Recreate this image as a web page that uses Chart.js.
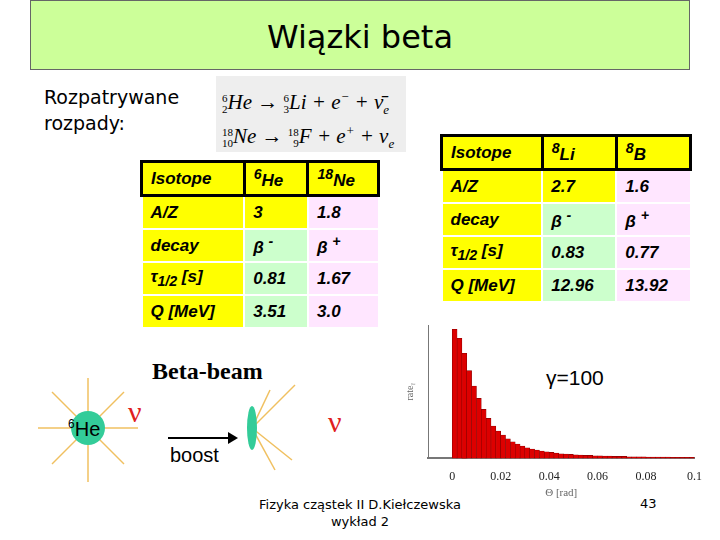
<!DOCTYPE html><html><head><meta charset="utf-8">
<script src="https://cdn.jsdelivr.net/npm/chart.js@4/dist/chart.umd.min.js"></script>
<style>
body{margin:0;width:720px;height:540px;position:relative;background:#fff;font-family:"Liberation Sans",Arial,sans-serif;overflow:hidden}
.abs{position:absolute}
#title{left:30px;top:0;width:660px;height:70px;background:#ccff99;border:1px solid #666;box-sizing:border-box;text-align:center;font:32px "DejaVu Sans";line-height:72px;color:#000}
table{border-collapse:collapse;font-weight:bold;font-size:17px;font-style:italic}
td{border:2px solid #fff;padding:0 8px;height:31px}
.hd td{background:#ffff00;border:3px solid #000}
td.p{background:#ffe6ff}
.frm{background:#eee;font:italic 21px "Liberation Serif";padding:4px 6px}
.pre{display:inline-flex;flex-direction:column;font-size:11px;line-height:11px;vertical-align:middle;text-align:right;font-style:normal}
.ln{height:34px;line-height:34px;white-space:nowrap}
</style></head><body>
<div id="title" class="abs">Wiązki beta</div>
<div class="abs" style="left:44px;top:84px;font:19px 'DejaVu Sans';line-height:26px">Rozpatrywane<br>rozpady:</div>
<div class="abs frm" style="left:216px;top:76px;width:178px">
<div class="ln"><span class="pre"><span>6</span><span>2</span></span>He → <span class="pre"><span>6</span><span>3</span></span>Li + e<sup style="font-size:13px">−</sup> + ν̄<sub style="font-size:13px">e</sub></div>
<div class="ln"><span class="pre"><span>18</span><span>10</span></span>Ne → <span class="pre"><span>18</span><span>9</span></span>F + e<sup style="font-size:13px">+</sup> + ν<sub style="font-size:13px">e</sub></div></div>
<table class="abs" style="left:140px;top:160px;width:240px">
<tr class="hd"><td>Isotope</td><td><sup>6</sup>He</td><td><sup>18</sup>Ne</td></tr>
<tr><td style="background:#ffff00">A/Z</td><td style="background:#ffff00">3</td><td class="p">1.8</td></tr>
<tr><td style="background:#ffff00">decay</td><td style="background:#ccffcc">β <sup>-</sup></td><td class="p">β <sup>+</sup></td></tr>
<tr><td style="background:#ffff00">τ<sub>1/2</sub> [s]</td><td style="background:#ccffcc">0.81</td><td class="p">1.67</td></tr>
<tr><td style="background:#ffff00">Q [MeV]</td><td style="background:#ccffcc">3.51</td><td class="p">3.0</td></tr>
</table>
<table class="abs" style="left:440px;top:134px;width:252px">
<tr class="hd"><td>Isotope</td><td><sup>8</sup>Li</td><td><sup>8</sup>B</td></tr>
<tr><td style="background:#ffff00">A/Z</td><td style="background:#ffff00">2.7</td><td class="p">1.6</td></tr>
<tr><td style="background:#ffff00">decay</td><td style="background:#ccffcc">β <sup>-</sup></td><td class="p">β <sup>+</sup></td></tr>
<tr><td style="background:#ffff00">τ<sub>1/2</sub> [s]</td><td style="background:#ccffcc">0.83</td><td class="p">0.77</td></tr>
<tr><td style="background:#ffff00">Q [MeV]</td><td style="background:#ccffcc">12.96</td><td class="p">13.92</td></tr>
</table>
<div class="abs" style="left:152px;top:358px;font:bold 24px 'Liberation Serif'">Beta-beam</div>
<svg class="abs" style="left:20px;top:360px" width="350" height="130">
<g stroke="#f0c060" stroke-width="1.5" fill="none">
<line x1="68" y1="68" x2="18" y2="68"/><line x1="68" y1="68" x2="118" y2="68"/><line x1="68" y1="68" x2="68" y2="18"/><line x1="68" y1="68" x2="68" y2="122"/>
<line x1="68" y1="68" x2="32" y2="32"/><line x1="68" y1="68" x2="104" y2="32"/><line x1="68" y1="68" x2="32" y2="104"/><line x1="68" y1="68" x2="104" y2="104"/>
<line x1="232" y1="68" x2="275" y2="25"/><line x1="232" y1="68" x2="272" y2="100"/><line x1="232" y1="68" x2="255" y2="110"/><line x1="232" y1="68" x2="250" y2="30"/>
</g>
<circle cx="68" cy="68" r="17" fill="#33cc99"/>
<text x="48" y="76" font-size="20" font-family="Liberation Sans"><tspan font-size="12" dy="-8">6</tspan><tspan dy="8">He</tspan></text>
<text x="108" y="62" font-size="30" fill="#e02020" font-family="Liberation Serif">ν</text>
<text x="308" y="72" font-size="30" fill="#e02020" font-family="Liberation Serif">ν</text>
<ellipse cx="232" cy="68" rx="5" ry="22" fill="#33cc99"/>
<line x1="148" y1="78" x2="208" y2="78" stroke="#000" stroke-width="2"/><polygon points="208,72 218,78 208,84" fill="#000"/>
<text x="150" y="102" font-size="20" font-family="Liberation Sans">boost</text>
</svg>
<div class="abs" style="left:240px;top:496px;width:240px;text-align:center;font:13px 'DejaVu Sans';line-height:17px">Fizyka cząstek II D.Kiełczewska<br>wykład 2</div>
<div class="abs" style="left:640px;top:496px;font:13px 'DejaVu Sans'">43</div>
<div class="abs" style="left:546px;top:366px;font:21px 'Liberation Sans'">γ=100</div>
<div class="abs" style="left:400px;top:320px;width:305px;height:180px"><canvas id="c"></canvas></div>
<script>
const binWidth=0.002;
const rates=[387,360,315,263,217,180,147,120,97,82,70,59,50,43,37,32,28,25,22,20,18,16,14,13,12,11,10,9,9,8,8,7,7,6,6,6,5,5,5,5,4,4,4,4,4,3,3,3,3,3];
const xTicks=[0,0.02,0.04,0.06,0.08,0.1];
new Chart(document.getElementById('c'),{type:'bar',
data:{datasets:[{data:rates.map((v,i)=>({x:(i+0.5)*binWidth,y:v})),backgroundColor:'#dd0000',borderColor:'#880000',borderWidth:0.6,barPercentage:1,categoryPercentage:1}]},
options:{responsive:true,maintainAspectRatio:false,animation:false,plugins:{legend:{display:false},tooltip:{enabled:false}},
layout:{padding:{top:5,right:4,left:0,bottom:0}},
scales:{x:{type:'linear',offset:false,min:-0.01,max:0.1,afterBuildTicks:a=>{a.ticks=xTicks.map(v=>({value:v}))},
ticks:{font:{family:'Liberation Serif',size:12},color:'#222',callback:v=>v===0.1?'0.1':(v===0?'0':v.toFixed(2))},
grid:{display:false},border:{color:'#777',width:2},title:{display:true,text:'Θ [rad]',font:{family:'Liberation Serif',size:11},padding:0}},
y:{min:0,max:400,ticks:{display:false},grid:{display:false},border:{color:'#777'},title:{display:true,text:'rateᵧ',font:{family:'Liberation Serif',size:10}}}}}});
</script></body></html>
